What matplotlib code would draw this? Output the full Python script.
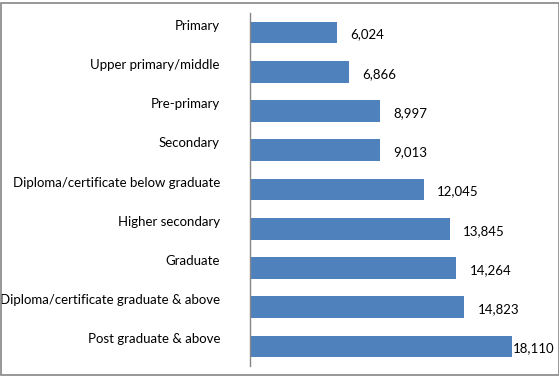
import matplotlib
matplotlib.use("Agg")
import matplotlib.pyplot as plt
import matplotlib.transforms as mtransforms
from matplotlib.patches import Rectangle

categories = ["Primary", "Upper primary/middle", "Pre-primary", "Secondary",
              "Diploma/certificate below graduate", "Higher secondary", "Graduate",
              "Diploma/certificate graduate & above", "Post graduate & above"]
values = [6024, 6866, 8997, 9013, 12045, 13845, 14264, 14823, 18110]
x_max = 20000

plt.rcParams['font.family'] = ['Lato', 'DejaVu Sans']
W, H = 559, 376
fig = plt.figure(figsize=(W / 100, H / 100), dpi=100)
ax = fig.add_axes([250 / W, 10 / H, 289.4 / W, 353 / H])

ypos = list(range(len(categories)))
ax.barh(ypos, values, height=0.55, color="#4F81BD", zorder=2)
ax.set_ylim(len(categories) - 0.5, -0.5)
ax.set_xlim(0, x_max)

for s in ["top", "right", "bottom"]:
    ax.spines[s].set_visible(False)
ax.spines["left"].set_color("#868686")
ax.spines["left"].set_linewidth(1.0)
ax.set_xticks([])
ax.set_yticks(ypos)
ax.set_yticklabels(categories, fontsize=9.5, color="#000000")
ax.tick_params(axis="y", length=0, pad=30 * 0.72)
shift = mtransforms.ScaledTranslation(0, 8 / 100, fig.dpi_scale_trans)
for lbl in ax.get_yticklabels():
    lbl.set_transform(lbl.get_transform() + shift)

fig.canvas.draw()
renderer = fig.canvas.get_renderer()
for y, v in zip(ypos, values):
    bx, by = ax.transData.transform((v, y))
    t = ax.text(0, 0, f"{v:,}", fontsize=9.5, va="center", ha="left",
                transform=None)
    w = t.get_window_extent(renderer).width
    lx = bx + 13
    if lx + w > W - 4:
        lx = bx + 1
    t.set_position((lx, by - 2))

fig.add_artist(Rectangle((0.5 / W, 1.5 / H), (W - 1) / W, (H - 4) / H,
                         transform=fig.transFigure, fill=False,
                         edgecolor="#868686", linewidth=1.2))
fig.savefig("out.png", dpi=100)
